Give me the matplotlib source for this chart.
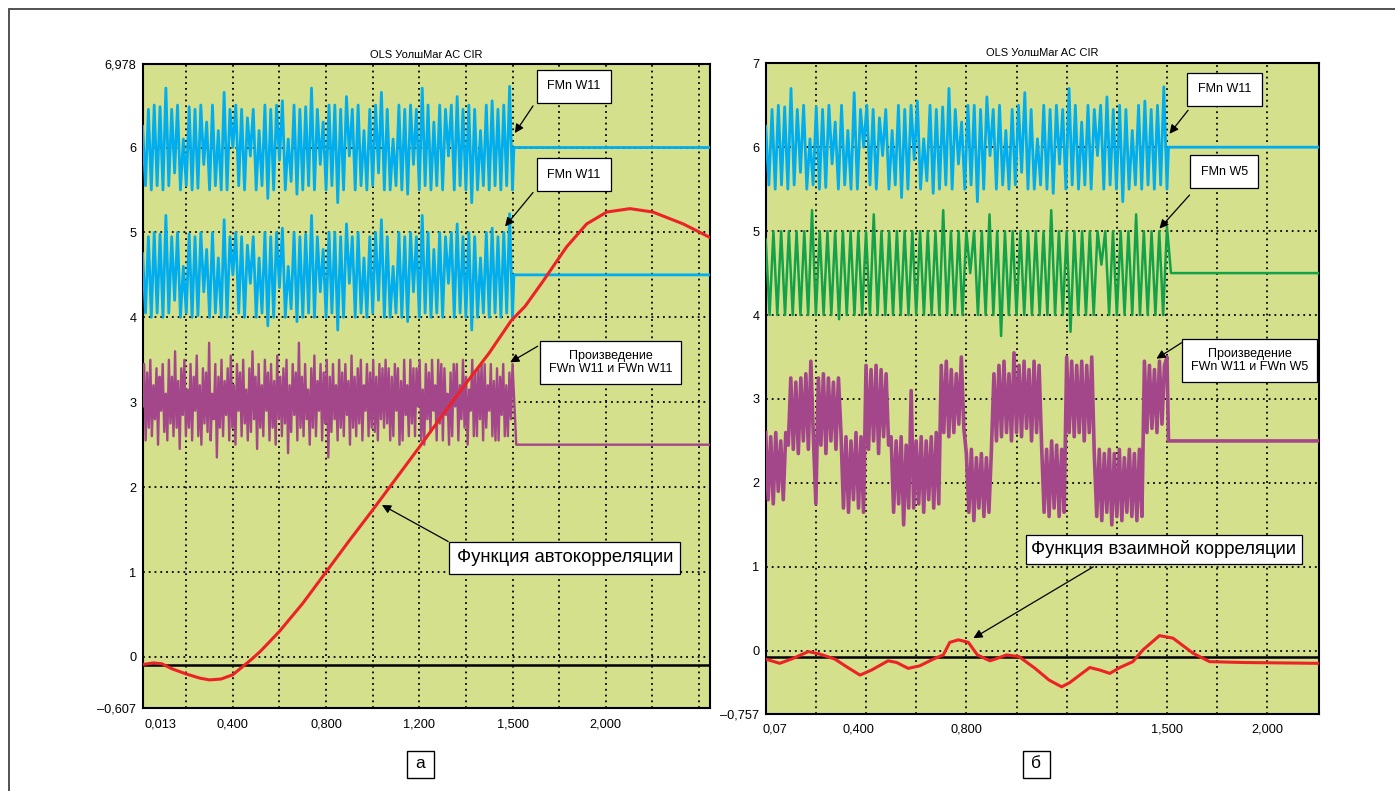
import matplotlib.pyplot as plt
import numpy as np
from matplotlib.patches import Rectangle

plt.rcParams['font.family'] = ['Liberation Sans', 'DejaVu Sans']

# --- data (x in grid units, y in volts) ---
# FMn W11 (deviation from its lane level), shared by both panels
w11 = [0.25, -0.45, 0.45, -0.5, 0.5, -0.45, 0.48, -0.5, 0.7, -0.45, 0.45, -0.3, 0.5, -0.5, 0.1, -0.45,
       0.48, -0.5, 0.45, -0.48, 0.5, -0.2, 0.3, -0.5, 0.5, -0.45, 0.2, -0.5, 0.65, -0.5, 0.45, 0.0,
       0.5, -0.45, 0.45, -0.5, 0.35, -0.1, 0.45, -0.5, 0.2, -0.45, 0.5, -0.6, 0.45, -0.5, 0.5, -0.15,
       0.55, -0.5, 0.1, -0.4, 0.5, -0.55, 0.45, -0.5, 0.48, -0.45, 0.7, -0.5, 0.45, -0.2, 0.3, -0.5,
       0.5, -0.45, 0.5, -0.65, 0.45, -0.5, 0.6, -0.1, 0.45, -0.5, 0.5, -0.45, 0.2, -0.5, 0.45, -0.45,
       0.5, -0.3, 0.65, -0.5, 0.45, -0.5, 0.1, -0.45, 0.5, -0.5, 0.45, -0.55, 0.5, -0.2, 0.45, -0.5,
       0.7, -0.45, 0.5, -0.5, 0.3, -0.45, 0.5, -0.5, 0.45, -0.1, 0.5, -0.5, 0.6, -0.45, 0.45, -0.5,
       0.5, -0.65, 0.45, -0.5, 0.2, -0.45, 0.5, -0.5, 0.55, -0.45, 0.45, -0.5, 0.5, -0.45, 0.72, -0.5]

# FMn W5 (deviation from its lane level)
w5 = [0.4, -0.5, 0.5, -0.5, 0.5, -0.5, 0.5, -0.5, 0.5, -0.5, 0.5, -0.5, 0.75, -0.5, 0.5, -0.5,
      0.5, -0.5, 0.5, -0.55, 0.5, -0.5, 0.5, -0.5, 0.5, -0.5, 0.5, -0.5, 0.7, -0.5, 0.5, -0.5,
      0.5, -0.5, 0.5, -0.5, 0.5, -0.5, 0.5, -0.5, 0.5, -0.5, 0.5, -0.5, 0.5, -0.5, 0.75, -0.5,
      0.5, -0.5, 0.5, -0.5, 0.5, 0.0, 0.5, -0.5, 0.5, -0.5, 0.7, -0.5, 0.5, -0.75, 0.5, -0.5,
      0.5, -0.5, 0.5, -0.5, 0.5, -0.5, 0.5, -0.5, 0.5, -0.5, 0.75, -0.5, 0.5, -0.5, 0.5, -0.7,
      0.5, -0.5, 0.5, -0.5, 0.5, -0.5, 0.5, 0.1, 0.5, -0.5, 0.5, -0.5, 0.5, -0.5, 0.5, -0.5,
      0.7, -0.5, 0.5, -0.5, 0.5, -0.5, 0.5, -0.5, 0.55]

# product FWn W11 * FWn W11 (left panel)
prod_left = [2.95, 3.45, 2.55, 3.35, 2.7, 3.5, 2.6, 3.2, 2.8, 3.4, 2.5, 3.3, 2.9, 3.45, 2.65, 3.1,
             2.55, 3.5, 2.75, 3.3, 2.6, 3.6, 2.7, 3.25, 2.45, 3.4, 2.85, 3.5, 2.6, 3.15, 2.7, 3.45,
             2.55, 3.3, 2.9, 3.55, 2.6, 3.2, 2.5, 3.4, 2.75, 3.35, 2.65, 3.7, 2.55, 3.1, 2.8, 3.45,
             2.35, 3.3, 2.7, 3.5, 2.6, 3.25, 2.85, 3.4, 2.55, 3.55, 2.7, 3.2, 2.5, 3.45, 2.9, 3.35,
             2.6, 3.5, 2.75, 3.15, 2.55, 3.4, 2.65, 3.6, 2.8, 3.3, 2.45, 3.45, 2.7, 3.2, 2.6, 3.5,
             2.9, 3.35, 2.55, 3.45, 2.7, 3.25, 2.5, 3.55, 2.8, 3.3, 2.6, 3.4, 2.75, 3.5, 2.4, 3.2,
             2.65, 3.45, 2.85, 3.35, 2.55, 3.7, 2.7, 3.3, 2.6, 3.45, 2.8, 3.15, 2.5, 3.4, 2.7, 3.55,
             2.6, 3.25, 2.9, 3.45, 2.55, 3.35, 2.75, 3.5, 2.35, 3.3, 2.65, 3.45, 2.8, 3.2, 2.55, 3.5,
             2.7, 3.35, 2.6, 3.45, 2.85, 3.25, 2.5, 3.55, 2.7, 3.3, 2.6, 3.4, 2.75, 3.5, 2.55, 3.2,
             2.9, 3.45, 2.6, 3.35, 2.7, 3.5, 2.65, 3.3, 2.55, 3.45, 2.8, 3.4, 2.7, 3.5, 2.75, 3.4,
             2.55, 3.3, 2.6, 3.45, 2.9, 3.4, 2.5, 3.25, 2.55, 3.5, 2.85, 3.2, 2.6, 3.5, 2.75, 3.4,
             2.6, 3.4, 2.95, 3.5, 2.55, 3.15, 2.5, 3.45, 2.8, 3.35, 2.65, 3.5, 2.9, 3.2, 2.55, 3.5,
             2.75, 3.45, 2.55, 3.4, 2.85, 3.1, 2.5, 3.35, 2.6, 3.45, 2.95, 3.45, 2.55, 3.2, 2.8, 3.5,
             2.7, 3.3, 2.5, 3.15, 2.9, 3.5, 2.6, 3.35, 2.6, 3.4, 2.8, 3.45, 2.55, 3.45, 2.7, 3.2,
             2.9, 3.45, 2.6, 3.25, 2.55, 3.4, 2.55, 3.3, 2.85, 3.45, 2.6, 3.2, 2.6, 3.35, 2.8, 3.45]

# product FWn W11 * FWn W5 (right panel), block by block
prod_right = [2.6, 1.8, 2.55, 1.75, 2.6, 1.9, 2.5, 1.8, 2.6, 2.45,
              3.25, 2.4, 3.2, 2.35, 3.25, 2.5, 3.3, 2.4, 3.45, 2.55, 1.75, 3.25, 2.45, 3.3, 2.35, 3.25, 2.5, 3.2, 2.4, 3.25,
              2.6, 1.7, 2.55, 1.65, 2.5, 1.8, 2.6, 1.7, 2.55, 1.65,
              3.4, 2.4, 3.35, 2.5, 3.4, 2.35, 3.35, 2.55, 3.3, 2.45,
              2.55, 1.65, 2.5, 1.75, 2.55, 1.5, 2.45, 1.7, 3.1, 1.7, 2.5, 1.75, 2.55, 1.65, 2.5, 1.8, 2.55, 1.7, 2.6, 1.75,
              3.4, 2.6, 3.45, 2.55, 3.35, 2.6, 3.3, 2.7, 3.5, 2.65,
              2.35, 1.65, 2.4, 1.55, 2.3, 1.7, 2.35, 1.6, 2.3, 1.65, 2.4,
              3.3, 2.5, 3.4, 2.55, 3.45, 2.6, 3.3, 2.5, 3.55, 2.6, 3.4, 2.55, 3.45, 2.65, 3.35, 2.5, 3.45, 2.6, 3.4,
              2.45, 1.65, 2.4, 1.6, 2.5, 1.7, 2.45, 1.6, 2.4, 1.65,
              3.5, 2.6, 3.45, 2.55, 3.4, 2.6, 3.45, 2.5, 3.4, 2.6, 3.5,
              2.35, 1.6, 2.4, 1.55, 2.35, 1.65, 2.4, 1.5, 2.35, 1.6, 2.4, 1.55, 2.3, 1.65, 2.4, 1.6, 2.35, 1.55, 2.4, 1.6,
              3.45, 2.6, 3.4, 2.65, 3.35, 2.6, 3.45, 2.7, 3.4, 3.5]

# autocorrelation (left) and cross-correlation (right)
acf_x = [0.067, 0.3, 0.48, 0.7, 1.0, 1.3, 1.5, 1.75, 2.0, 2.2, 2.4, 2.6, 3.0, 3.5, 4.0, 4.5, 5.0,
         5.5, 6.0, 6.5, 7.0, 7.5, 7.97, 8.27, 8.66, 9.16, 9.59, 10.02, 10.52, 11.01, 11.66, 12.236]
acf_y = [-0.09, -0.07, -0.08, -0.14, -0.2, -0.25, -0.27, -0.26, -0.21, -0.12, -0.03, 0.07, 0.3, 0.63,
         1.0, 1.37, 1.73, 2.1, 2.47, 2.85, 3.22, 3.58, 3.96, 4.13, 4.43, 4.83, 5.1, 5.24, 5.28, 5.24,
         5.1, 4.94]
ccf_x = [0, 0.28, 0.55, 0.85, 1.08, 1.38, 1.61, 1.88, 2.11, 2.44, 2.61, 2.84, 3.07, 3.34, 3.54, 3.67,
         3.84, 4.04, 4.22, 4.47, 4.62, 4.8, 5.05, 5.37, 5.65, 5.9, 6.06, 6.46, 6.66, 6.86, 7.06, 7.32,
         7.52, 7.85, 8.12, 8.52, 8.85, 9.51, 11.03]
ccf_y = [-0.1, -0.15, -0.09, -0.01, -0.04, -0.1, -0.19, -0.29, -0.23, -0.12, -0.14, -0.21, -0.18,
         -0.1, -0.05, 0.1, 0.13, 0.1, -0.05, -0.12, -0.09, -0.05, -0.07, -0.21, -0.35, -0.43, -0.38,
         -0.2, -0.23, -0.27, -0.2, -0.13, 0.01, 0.18, 0.15, -0.03, -0.13, -0.14, -0.15]

# lane levels while the signal runs, and flat levels after it stops
lane_left = [6.0, 4.5]
tail_left = [6.0, 4.5, 2.5]
lane_right = [6.0, 4.5]
tail_right = [6.0, 4.5, 2.5]
stop_x = 8.0
baseline_left = -0.09
baseline_right = -0.07

xtick_left = [0.44, 2, 4, 6, 8, 10]
xlab_left = ['0,013', '0,400', '0,800', '1,200', '1,500', '2,000']
xtick_right = [0.18, 1.85, 4, 8, 10]
xlab_right = ['0,07', '0,400', '0,800', '1,500', '2,000']
ytick_left = [-0.607, 0, 1, 2, 3, 4, 5, 6, 6.978]
ylab_left = ['–0,607', '0', '1', '2', '3', '4', '5', '6', '6,978']
ytick_right = [-0.757, 0, 1, 2, 3, 4, 5, 6, 7]
ylab_right = ['–0,757', '0', '1', '2', '3', '4', '5', '6', '7']

BG = '#d4e08b'
CYAN = '#00adee'
GREEN = '#13a24a'
PURPLE = '#a3468a'
RED = '#ec2227'

fig = plt.figure(figsize=(13.95, 7.91), dpi=100)
axL = fig.add_axes([0.1022, 0.1043, 0.4068, 0.8142])
axR = fig.add_axes([0.5489, 0.0970, 0.3966, 0.8230])

# outer frame of the figure panel
fig.patches.append(Rectangle((9 / 1395, -0.05), 1.1, 1 - 9 / 791 + 0.05, transform=fig.transFigure,
                             fill=False, edgecolor='#444444', lw=1.3))


def setup(ax, xmax, xmin, ymin, ymax, ngrid, xt, xl, yt, yl, xpad):
    ax.set_facecolor(BG)
    ax.set_xlim(xmin, xmax)
    ax.set_ylim(ymin, ymax)
    for g in range(1, ngrid + 1):
        ax.axvline(g, color='black', lw=1.3, ls=(0, (1, 2.2)), zorder=1)
    for g in range(0, 7):
        ax.axhline(g, color='black', lw=1.3, ls=(0, (1, 2.2)), zorder=1)
    ax.set_xticks(xt)
    ax.set_xticklabels(xl)
    ax.set_yticks(yt)
    ax.set_yticklabels(yl)
    ax.tick_params(length=0, labelsize=9.2)
    ax.tick_params(axis='x', pad=7)
    ax.tick_params(axis='y', pad=4.5)
    for s in ax.spines.values():
        s.set_linewidth(1.5)
    ax.set_title('OLS УолшMar AC CIR', fontsize=8, pad=5)


setup(axL, 12.236, 0.067, -0.607, 6.978, 12, xtick_left, xlab_left, ytick_left, ylab_left, 7)
setup(axR, 11.03, 0.0, -0.757, 7.0, 10, xtick_right, xlab_right, ytick_right, ylab_right, 4.5)

# left panel
xw = np.linspace(0.067, stop_x, len(w11))
for lane, tail in zip(lane_left, tail_left[:2]):
    axL.plot(np.r_[xw, stop_x + 0.03, 12.236], np.r_[np.array(w11) + lane, tail, tail],
             color=CYAN, lw=2.0, zorder=3)
xp = np.linspace(0.067, stop_x, len(prod_left))
axL.plot(np.r_[xp, stop_x + 0.08, 12.236], np.r_[prod_left, tail_left[2], tail_left[2]],
         color=PURPLE, lw=1.7, zorder=3)
axL.axhline(baseline_left, color='black', lw=1.8, zorder=4)
axL.plot(acf_x, acf_y, color=RED, lw=2.2, zorder=5)

# right panel
xw = np.linspace(0.0, stop_x, len(w11))
axR.plot(np.r_[xw, stop_x + 0.03, 11.03], np.r_[np.array(w11) + lane_right[0], tail_right[0], tail_right[0]],
         color=CYAN, lw=2.0, zorder=3)
x5 = np.linspace(0.0, stop_x, len(w5))
axR.plot(np.r_[x5, stop_x + 0.08, 11.03], np.r_[np.array(w5) + lane_right[1], tail_right[1], tail_right[1]],
         color=GREEN, lw=1.8, zorder=3)
xp = np.linspace(0.0, stop_x, len(prod_right))
axR.plot(np.r_[xp, stop_x + 0.03, 11.03], np.r_[prod_right, tail_right[2], tail_right[2]],
         color=PURPLE, lw=2.6, zorder=3)
axR.axhline(baseline_right, color='black', lw=1.8, zorder=4)
axR.plot(ccf_x, ccf_y, color=RED, lw=2.2, zorder=5)


def callout(ax, text, center, start, tip, fs, pad):
    ax.text(center[0], center[1], text, fontsize=fs, ha='center', va='center', zorder=7,
            linespacing=1.15,
            bbox=dict(boxstyle=f'square,pad={pad}', facecolor='white', edgecolor='black', lw=0.9))
    ax.annotate('', xy=tip, xytext=start, zorder=6,
                arrowprops=dict(arrowstyle='-|>', color='black', lw=0.9, mutation_scale=13,
                                shrinkA=0, shrinkB=0))


callout(axL, 'FMn W11', (9.32, 6.72), (8.44, 6.49), (8.05, 6.17), 9, 0.84)
callout(axL, 'FMn W11', (9.32, 5.68), (8.44, 5.47), (7.84, 5.07), 9, 0.84)
callout(axL, 'Произведение\nFWn W11 и FWn W11', (10.11, 3.47), (8.54, 3.66), (7.95, 3.47), 9, 0.7)
callout(axL, 'Функция автокорреляции', (9.12, 1.17), (6.62, 1.36), (5.2, 1.79), 13.3, 0.4)

callout(axR, 'FMn W11', (9.15, 6.69), (8.42, 6.44), (8.05, 6.16), 9, 0.84)
callout(axR, 'FMn W5', (9.14, 5.71), (8.45, 5.43), (7.85, 5.03), 9, 0.84)
callout(axR, 'Произведение\nFWn W11 и FWn W5', (9.65, 3.46), (8.29, 3.67), (7.79, 3.48), 9, 0.7)
callout(axR, 'Функция взаимной корреляции', (7.94, 1.21), (6.53, 1.0), (4.14, 0.15), 13.3, 0.3)

# panel letters
for cx, letter in [(420, 'а'), (1036, 'б')]:
    fig.patches.append(Rectangle(((cx - 13.5) / 1395, 1 - 777.5 / 791), 27 / 1395, 27 / 791,
                                 transform=fig.transFigure, fill=False, edgecolor='black', lw=1.0))
    fig.text(cx / 1395, 1 - 764 / 791, letter, fontsize=12.5, ha='center', va='center')

fig.savefig('out.png', dpi=100, facecolor='white')
